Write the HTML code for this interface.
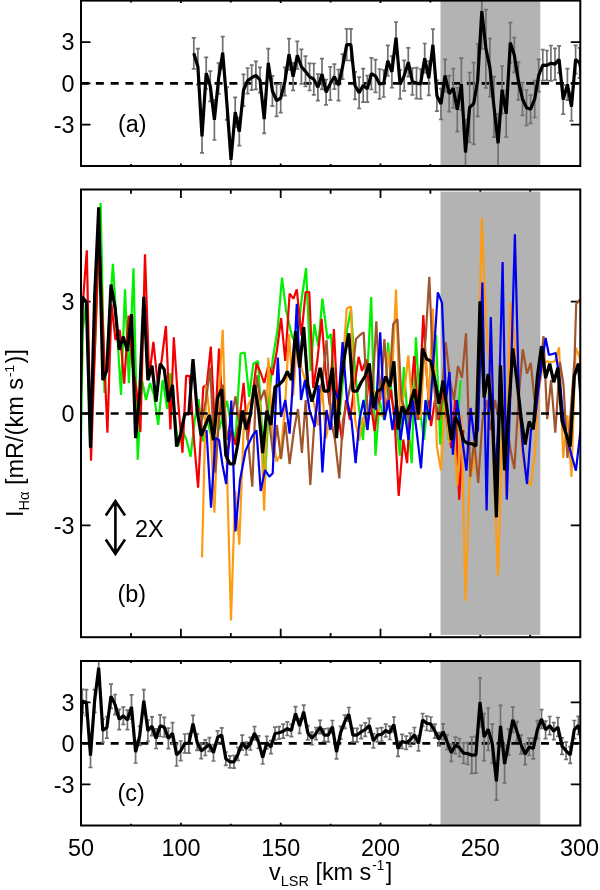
<!DOCTYPE html>
<html><head><meta charset="utf-8"><title>H-alpha spectra</title>
<style>html,body{margin:0;padding:0;background:#fff}svg{display:block}text{font-family:"Liberation Sans",sans-serif;fill:#000}</style></head><body>
<svg width="600" height="890" viewBox="0 0 600 890">
<rect width="600" height="890" fill="#fff"/>
<defs>
<clipPath id="ca"><rect x="81.0" y="0.6" width="499.3" height="165.4"/></clipPath>
<clipPath id="cb"><rect x="81.0" y="189.5" width="499.3" height="447.7"/></clipPath>
<clipPath id="cc"><rect x="81.0" y="661.0" width="499.3" height="164.5"/></clipPath>
</defs>
<path d="M131.0 0.6 v2.0 M131.0 166.0 v-2.0 M180.9 0.6 v2.5 M180.9 166.0 v-2.5 M230.8 0.6 v2.0 M230.8 166.0 v-2.0 M280.7 0.6 v2.5 M280.7 166.0 v-2.5 M330.6 0.6 v2.0 M330.6 166.0 v-2.0 M380.5 0.6 v2.5 M380.5 166.0 v-2.5 M430.4 0.6 v2.0 M430.4 166.0 v-2.0 M480.3 0.6 v2.5 M480.3 166.0 v-2.5 M530.2 0.6 v2.0 M530.2 166.0 v-2.0 M81.0 42.1 h9.5 M580.3 42.1 h-9.5 M81.0 83.4 h9.5 M580.3 83.4 h-9.5 M81.0 124.7 h9.5 M580.3 124.7 h-9.5" stroke="#000" stroke-width="1.8" fill="none"/>
<rect x="440.5" y="0.6" width="99.8" height="164.8" fill="#b3b3b3"/>
<g clip-path="url(#ca)">
<path d="M81.0 83.4 H580.3" stroke="#000" stroke-width="2.7" stroke-dasharray="8 6.84" stroke-dashoffset="0" fill="none"/>
<path d="M193.8 37.8 V68.8 M191.8 37.8 h4.0 M191.8 68.8 h4.0 M197.9 48.6 V84.7 M195.9 48.6 h4.0 M195.9 84.7 h4.0 M202.0 120.2 V152.9 M200.0 120.2 h4.0 M200.0 152.9 h4.0 M206.2 57.3 V89.0 M204.2 57.3 h4.0 M204.2 89.0 h4.0 M210.3 71.2 V101.4 M208.3 71.2 h4.0 M208.3 101.4 h4.0 M214.4 99.9 V140.0 M212.4 99.9 h4.0 M212.4 140.0 h4.0 M218.6 63.0 V93.9 M216.6 63.0 h4.0 M216.6 93.9 h4.0 M222.7 36.7 V68.6 M220.7 36.7 h4.0 M220.7 68.6 h4.0 M226.9 87.2 V119.9 M224.9 87.2 h4.0 M224.9 119.9 h4.0 M231.0 143.6 V175.9 M229.0 143.6 h4.0 M229.0 175.9 h4.0 M235.2 97.3 V126.9 M233.2 97.3 h4.0 M233.2 126.9 h4.0 M239.3 117.7 V145.7 M237.3 117.7 h4.0 M237.3 145.7 h4.0 M243.5 74.4 V106.1 M241.5 74.4 h4.0 M241.5 106.1 h4.0 M247.6 68.0 V93.6 M245.6 68.0 h4.0 M245.6 93.6 h4.0 M251.7 65.2 V90.1 M249.7 65.2 h4.0 M249.7 90.1 h4.0 M255.9 61.4 V89.4 M253.9 61.4 h4.0 M253.9 89.4 h4.0 M260.0 67.4 V92.6 M258.0 67.4 h4.0 M258.0 92.6 h4.0 M264.2 105.0 V133.3 M262.2 105.0 h4.0 M262.2 133.3 h4.0 M268.3 48.7 V77.0 M266.3 48.7 h4.0 M266.3 77.0 h4.0 M272.4 75.8 V106.2 M270.4 75.8 h4.0 M270.4 106.2 h4.0 M276.6 84.5 V116.4 M274.6 84.5 h4.0 M274.6 116.4 h4.0 M280.7 83.5 V112.6 M278.7 83.5 h4.0 M278.7 112.6 h4.0 M284.9 67.4 V95.7 M282.9 67.4 h4.0 M282.9 95.7 h4.0 M289.0 38.6 V70.0 M287.0 38.6 h4.0 M287.0 70.0 h4.0 M293.1 62.9 V90.4 M291.1 62.9 h4.0 M291.1 90.4 h4.0 M297.3 41.4 V68.9 M295.3 41.4 h4.0 M295.3 68.9 h4.0 M301.4 49.4 V83.9 M299.4 49.4 h4.0 M299.4 83.9 h4.0 M305.5 56.2 V86.5 M303.5 56.2 h4.0 M303.5 86.5 h4.0 M309.6 63.3 V90.5 M307.6 63.3 h4.0 M307.6 90.5 h4.0 M313.8 63.5 V94.9 M311.8 63.5 h4.0 M311.8 94.9 h4.0 M317.9 74.2 V100.6 M315.9 74.2 h4.0 M315.9 100.6 h4.0 M322.0 58.7 V89.4 M320.0 58.7 h4.0 M320.0 89.4 h4.0 M326.1 79.5 V104.9 M324.1 79.5 h4.0 M324.1 104.9 h4.0 M330.3 66.8 V100.1 M328.3 66.8 h4.0 M328.3 100.1 h4.0 M334.4 64.2 V89.1 M332.4 64.2 h4.0 M332.4 89.1 h4.0 M338.5 69.6 V100.6 M336.5 69.6 h4.0 M336.5 100.6 h4.0 M342.6 54.1 V79.2 M340.6 54.1 h4.0 M340.6 79.2 h4.0 M346.7 28.9 V60.4 M344.7 28.9 h4.0 M344.7 60.4 h4.0 M350.9 28.8 V60.6 M348.9 28.8 h4.0 M348.9 60.6 h4.0 M355.0 71.8 V99.3 M353.0 71.8 h4.0 M353.0 99.3 h4.0 M359.1 77.1 V108.5 M357.1 77.1 h4.0 M357.1 108.5 h4.0 M363.2 68.6 V102.2 M361.2 68.6 h4.0 M361.2 102.2 h4.0 M367.3 75.5 V102.2 M365.3 75.5 h4.0 M365.3 102.2 h4.0 M371.4 57.8 V89.5 M369.4 57.8 h4.0 M369.4 89.5 h4.0 M375.5 59.7 V92.4 M373.5 59.7 h4.0 M373.5 92.4 h4.0 M379.6 69.0 V98.9 M377.6 69.0 h4.0 M377.6 98.9 h4.0 M383.7 70.0 V97.0 M381.7 70.0 h4.0 M381.7 97.0 h4.0 M387.8 45.4 V76.0 M385.8 45.4 h4.0 M385.8 76.0 h4.0 M391.9 56.1 V87.6 M389.9 56.1 h4.0 M389.9 87.6 h4.0 M396.0 22.0 V53.4 M394.0 22.0 h4.0 M394.0 53.4 h4.0 M400.1 70.0 V98.8 M398.1 70.0 h4.0 M398.1 98.8 h4.0 M404.2 60.3 V90.9 M402.2 60.3 h4.0 M402.2 90.9 h4.0 M408.3 47.9 V76.6 M406.3 47.9 h4.0 M406.3 76.6 h4.0 M412.4 68.2 V94.9 M410.4 68.2 h4.0 M410.4 94.9 h4.0 M416.5 67.7 V98.6 M414.5 67.7 h4.0 M414.5 98.6 h4.0 M420.6 69.0 V98.9 M418.6 69.0 h4.0 M418.6 98.9 h4.0 M424.7 43.5 V73.0 M422.7 43.5 h4.0 M422.7 73.0 h4.0 M428.8 61.1 V95.4 M426.8 61.1 h4.0 M426.8 95.4 h4.0 M432.9 29.1 V60.5 M430.9 29.1 h4.0 M430.9 60.5 h4.0 M436.9 80.4 V111.1 M434.9 80.4 h4.0 M434.9 111.1 h4.0 M441.0 88.7 V119.3 M439.0 88.7 h4.0 M439.0 119.3 h4.0 M445.1 59.4 V91.6 M443.1 59.4 h4.0 M443.1 91.6 h4.0 M449.2 75.6 V111.7 M447.2 75.6 h4.0 M447.2 111.7 h4.0 M453.3 68.7 V108.0 M451.3 68.7 h4.0 M451.3 108.0 h4.0 M457.3 87.7 V131.7 M455.3 87.7 h4.0 M455.3 131.7 h4.0 M461.4 58.1 V110.0 M459.4 58.1 h4.0 M459.4 110.0 h4.0 M465.5 119.5 V185.5 M463.5 119.5 h4.0 M463.5 185.5 h4.0 M469.6 72.5 V142.5 M467.6 72.5 h4.0 M467.6 142.5 h4.0 M473.7 62.7 V144.4 M471.7 62.7 h4.0 M471.7 144.4 h4.0 M477.7 44.0 V116.3 M475.7 44.0 h4.0 M475.7 116.3 h4.0 M481.8 -26.6 V48.8 M479.8 -26.6 h4.0 M479.8 48.8 h4.0 M485.9 9.7 V87.8 M483.9 9.7 h4.0 M483.9 87.8 h4.0 M489.9 38.5 V96.7 M487.9 38.5 h4.0 M487.9 96.7 h4.0 M494.0 76.6 V137.1 M492.0 76.6 h4.0 M492.0 137.1 h4.0 M498.1 113.8 V172.7 M496.1 113.8 h4.0 M496.1 172.7 h4.0 M502.1 66.0 V113.5 M500.1 66.0 h4.0 M500.1 113.5 h4.0 M506.2 90.6 V137.0 M504.2 90.6 h4.0 M504.2 137.0 h4.0 M510.3 22.6 V62.7 M508.3 22.6 h4.0 M508.3 62.7 h4.0 M514.3 37.7 V72.3 M512.3 37.7 h4.0 M512.3 72.3 h4.0 M518.4 62.1 V99.8 M516.4 62.1 h4.0 M516.4 99.8 h4.0 M522.5 82.7 V115.4 M520.5 82.7 h4.0 M520.5 115.4 h4.0 M526.5 90.0 V125.3 M524.5 90.0 h4.0 M524.5 125.3 h4.0 M530.6 95.1 V123.3 M528.6 95.1 h4.0 M528.6 123.3 h4.0 M534.7 80.6 V117.5 M532.7 80.6 h4.0 M532.7 117.5 h4.0 M538.7 59.3 V91.6 M536.7 59.3 h4.0 M536.7 91.6 h4.0 M542.8 49.7 V80.7 M540.8 49.7 h4.0 M540.8 80.7 h4.0 M546.9 50.5 V80.3 M544.9 50.5 h4.0 M544.9 80.3 h4.0 M550.9 45.5 V80.8 M548.9 45.5 h4.0 M548.9 80.8 h4.0 M555.0 48.4 V79.8 M553.0 48.4 h4.0 M553.0 79.8 h4.0 M559.1 45.8 V73.0 M557.1 45.8 h4.0 M557.1 73.0 h4.0 M563.2 85.0 V114.1 M561.2 85.0 h4.0 M561.2 114.1 h4.0 M567.4 68.6 V100.1 M565.4 68.6 h4.0 M565.4 100.1 h4.0 M571.5 92.6 V120.9 M569.5 92.6 h4.0 M569.5 120.9 h4.0 M575.6 45.3 V73.6 M573.6 45.3 h4.0 M573.6 73.6 h4.0 M579.7 47.9 V77.8 M577.7 47.9 h4.0 M577.7 77.8 h4.0" stroke="#707070" stroke-width="1.7" fill="none"/>
<path d="M193.8 53.3 L197.9 66.7 L202.0 136.5 L206.2 73.2 L210.3 86.3 L214.4 119.9 L218.6 78.4 L222.7 52.7 L226.9 103.6 L231.0 159.8 L235.2 112.1 L239.3 131.7 L243.5 90.2 L247.6 80.8 L251.7 77.7 L255.9 75.4 L260.0 80.0 L264.2 119.2 L268.3 62.9 L272.4 91.0 L276.6 100.5 L280.7 98.1 L284.9 81.6 L289.0 54.3 L293.1 76.6 L297.3 55.2 L301.4 66.7 L305.5 71.4 L309.6 76.9 L313.8 79.2 L317.9 87.4 L322.0 74.0 L326.1 92.2 L330.3 83.5 L334.4 76.6 L338.5 85.1 L342.6 66.7 L346.7 44.6 L350.9 44.7 L355.0 85.5 L359.1 92.8 L363.2 85.4 L367.3 88.8 L371.4 73.6 L375.5 76.1 L379.6 83.9 L383.7 83.5 L387.8 60.7 L391.9 71.9 L396.0 37.7 L400.1 84.4 L404.2 75.6 L408.3 62.2 L412.4 81.6 L416.5 83.2 L420.6 83.9 L424.7 58.2 L428.8 78.2 L432.9 44.8 L436.9 95.7 L441.0 104.0 L445.1 75.5 L449.2 93.7 L453.3 88.3 L457.3 109.7 L461.4 84.1 L465.5 152.5 L469.6 107.5 L473.7 103.6 L477.7 80.2 L481.8 11.1 L485.9 48.7 L489.9 67.6 L494.0 106.9 L498.1 143.2 L502.1 89.7 L506.2 113.8 L510.3 42.7 L514.3 55.0 L518.4 80.9 L522.5 99.0 L526.5 107.7 L530.6 109.2 L534.7 99.0 L538.7 75.4 L542.8 65.2 L546.9 65.4 L550.9 63.2 L555.0 64.1 L559.1 59.4 L563.2 99.6 L567.4 84.4 L571.5 106.7 L575.6 59.5 L579.7 62.9 L583.8 84.9" stroke="#000" stroke-width="3.2" fill="none" stroke-linejoin="bevel"/>
</g>
<rect x="81.0" y="0.6" width="499.3" height="165.4" fill="none" stroke="#000" stroke-width="2.0"/>
<text transform="translate(74.5 50.4) scale(1 1.060)" font-size="23.4" text-anchor="end">3</text>
<text transform="translate(74.5 91.7) scale(1 1.060)" font-size="23.4" text-anchor="end">0</text>
<text transform="translate(74.5 133.0) scale(1 1.060)" font-size="23.4" text-anchor="end">-3</text>
<text transform="translate(118.0 131.5) scale(1 1.060)" font-size="23.4">(a)</text>
<path d="M131.0 189.5 v4.2 M131.0 637.2 v-4.2 M180.9 189.5 v8.5 M180.9 637.2 v-8.5 M230.8 189.5 v4.2 M230.8 637.2 v-4.2 M280.7 189.5 v8.5 M280.7 637.2 v-8.5 M330.6 189.5 v4.2 M330.6 637.2 v-4.2 M380.5 189.5 v8.5 M380.5 637.2 v-8.5 M430.4 189.5 v4.2 M430.4 637.2 v-4.2 M480.3 189.5 v8.5 M480.3 637.2 v-8.5 M530.2 189.5 v4.2 M530.2 637.2 v-4.2 M81.0 301.6 h9.5 M580.3 301.6 h-9.5 M81.0 413.5 h9.5 M580.3 413.5 h-9.5 M81.0 525.4 h9.5 M580.3 525.4 h-9.5" stroke="#000" stroke-width="1.8" fill="none"/>
<rect x="440.5" y="191.6" width="99.8" height="443.3" fill="#b3b3b3"/>
<g clip-path="url(#cb)" fill="none" stroke-width="2.2" stroke-linejoin="bevel">
<path d="M78.5 590.0 L82.8 330.0 L86.5 300.0 L90.2 445.0 L95.3 340.0 L100.6 203.0 L104.5 393.0 L108.5 330.0 L112.9 263.8 L117.0 330.0 L121.0 395.0 L125.0 289.4 L128.9 383.0 L133.5 268.3 L137.7 459.8 L142.0 380.0 L146.0 400.0 L150.0 383.0 L154.0 395.0 L158.2 424.8 L162.6 380.0 L167.3 409.0 L170.4 373.0 L174.5 415.0 L178.4 445.7 L182.5 430.0 L186.5 440.0 L190.6 456.8 L194.7 420.0 L198.7 399.0 L202.7 441.6 L207.0 420.0 L211.0 435.0 L215.0 410.0 L219.0 430.0 L223.0 415.0 L227.0 401.0 L231.0 425.0 L235.5 440.0 L240.5 353.5 L244.7 352.6 L249.2 397.0 L253.3 363.7 L258.0 361.0 L261.5 420.0 L265.0 481.0 L269.0 400.0 L272.7 359.3 L277.5 330.0 L282.0 277.6 L286.0 310.0 L292.1 336.6 L297.0 345.0 L301.5 300.0 L306.1 268.0 L310.6 371.0 L314.3 324.0 L318.2 346.0 L322.4 298.7 L327.5 339.0 L330.8 334.0 L335.0 390.0 L339.0 420.0 L343.0 380.0 L347.0 330.0 L351.0 309.0 L355.0 370.0 L358.6 405.0 L363.0 440.0 L367.0 380.0 L371.2 297.0 L375.5 455.6 L379.5 400.0 L384.0 420.0 L388.1 342.5 L392.0 400.0 L396.0 420.0 L399.9 455.6 L403.8 367.0 L407.8 420.0 L411.7 463.2 L415.9 337.4 L420.0 410.0 L424.0 440.0 L428.0 400.0 L432.0 380.0 L436.0 334.8 L440.3 444.6 L444.5 372.0 L448.5 440.0 L452.5 425.0 L456.5 440.0 L460.5 380.5" stroke="#00f000"/>
<path d="M78.2 560.0 L82.3 310.0 L86.8 250.3 L91.0 460.6 L99.0 232.0 L107.4 432.8 L111.5 304.6 L115.5 340.0 L119.8 330.0 L124.2 383.6 L128.6 315.5 L132.5 365.0 L136.5 390.0 L140.4 432.0 L145.0 254.3 L149.2 377.0 L153.4 341.8 L157.6 382.2 L161.7 360.0 L165.9 326.0 L170.4 429.5 L173.8 337.4 L178.0 400.0 L182.5 452.8 L186.1 375.9 L189.6 375.9 L194.0 440.0 L198.1 487.6 L203.3 387.0 L206.8 385.0 L210.8 346.6 L215.0 430.0 L219.0 348.5 L223.0 420.0 L227.0 455.0 L231.5 430.0 L235.5 445.0 L239.5 420.0 L243.6 382.8 L247.7 440.0 L252.0 400.0 L256.5 363.5 L260.3 372.0 L264.2 383.0 L268.5 365.0 L272.5 375.0 L277.0 350.0 L281.1 318.0 L285.3 361.0 L289.6 293.6 L293.5 298.7 L296.8 289.4 L301.4 335.7 L305.6 292.0 L309.3 292.0 L313.2 388.0 L317.4 360.0 L321.6 318.9 L325.5 370.0 L329.7 405.0 L333.9 329.0 L338.0 413.0 L342.0 440.0 L346.0 400.0 L350.0 420.0 L354.5 385.0 L358.6 356.8 L362.0 371.0 L366.2 359.3 L370.3 400.0 L374.6 431.0 L378.7 400.0 L382.8 380.0 L386.9 410.0 L391.0 390.0 L394.6 420.0 L398.7 496.0 L403.3 439.6 L407.1 463.2 L410.5 400.0 L414.2 356.0 L418.5 420.0 L423.3 315.0 L427.0 380.0 L431.0 426.0 L435.0 400.0 L439.0 420.0 L443.0 390.0 L447.0 420.0 L451.2 448.0 L455.2 400.0 L459.2 499.6 L463.3 430.0" stroke="#f40000"/>
<path d="M202.0 557.4 L206.2 385.2 L210.3 421.3 L214.4 512.8 L218.6 400.1 L222.7 329.9 L226.9 468.1 L231.0 620.4 L235.2 490.7 L239.3 544.7 L243.5 432.0 L247.6 406.5 L251.7 397.9 L255.9 389.4 L260.0 404.3 L264.2 510.7 L268.3 357.5 L272.4 434.1 L276.6 461.7 L280.7 453.2 L284.9 408.6 L289.0 334.1 L293.1 395.8 L297.3 336.3 L301.4 368.2 L305.5 380.9 L309.6 395.8 L313.8 402.2 L317.9 425.6 L322.0 387.3 L326.1 438.4 L330.3 413.7 L334.4 393.7 L338.5 419.2 L342.6 368.2 L346.7 308.6 L350.9 306.5 L355.0 419.2 L359.1 440.5 L363.2 417.1 L367.3 429.8 L371.4 385.2 L375.5 393.7 L379.6 415.0 L383.7 416.2 L387.8 351.2 L391.9 383.1 L396.0 289.5 L400.1 417.1 L404.2 392.4 L408.3 355.4 L412.4 408.6 L416.5 412.8 L420.6 417.1 L424.7 344.8 L428.8 400.1 L432.9 308.6 L436.9 446.9 L441.0 470.3 L445.1 391.6 L449.2 442.6 L453.3 425.6 L457.3 485.1 L461.4 415.0 L465.5 600.8 L469.6 478.8 L473.7 468.1 L477.7 404.7 L481.8 217.6 L485.9 319.7 L489.9 370.7 L494.0 477.0 L498.1 575.7 L502.1 430.2 L506.2 496.2 L510.3 302.6 L514.3 336.7 L518.4 406.9 L522.5 455.8 L526.5 479.2 L530.6 485.5 L534.7 455.8 L538.7 392.0 L542.8 364.3 L546.9 361.3 L550.9 362.2 L555.0 361.3 L559.1 347.3 L563.2 457.9 L567.4 415.4 L571.5 477.0 L575.6 347.3 L579.7 357.9 L583.8 417.5" stroke="#fd9c14"/>
<path d="M197.5 405.0 L202.0 420.0 L206.0 400.0 L210.2 367.7 L215.3 472.4 L219.0 420.0 L222.8 384.5 L227.0 440.0 L231.0 420.0 L235.5 396.3 L240.0 430.0 L244.0 410.0 L248.0 440.0 L252.3 486.7 L256.5 375.3 L260.5 400.0 L264.5 390.0 L269.0 420.0 L273.5 457.3 L276.9 425.0 L281.1 459.0 L285.3 422.0 L289.6 464.0 L294.0 430.0 L298.0 409.0 L301.9 453.0 L305.7 400.0 L310.3 485.0 L314.5 420.0 L318.0 400.0 L322.5 380.0 L326.6 340.0 L331.0 420.0 L335.0 440.0 L339.3 478.4 L343.0 420.0 L347.5 400.0 L351.5 380.0 L356.0 339.0 L360.0 335.0 L363.7 332.4 L368.0 420.0 L372.0 400.0 L376.3 321.4 L380.3 400.0 L384.4 339.0 L388.5 400.0 L393.2 324.0 L397.4 319.0 L401.5 400.0 L405.5 410.0 L409.5 420.0 L413.5 400.0 L417.5 420.0 L421.5 380.0 L425.5 340.0 L429.3 276.7 L433.5 380.0 L437.5 420.0 L441.5 400.0 L445.7 342.0 L450.0 380.0 L454.0 400.0 L458.0 366.0 L462.0 378.0 L466.0 333.4 L470.3 476.9 L474.2 440.0 L478.2 482.8 L482.5 420.0 L486.5 400.0 L490.5 430.0 L495.0 400.0 L499.0 420.0 L503.5 408.0 L507.5 430.0 L510.5 450.0 L514.4 469.0 L518.5 400.0 L522.8 349.3 L527.0 373.7 L530.7 362.8 L534.6 400.0 L539.0 380.0 L543.5 336.0 L547.2 419.2 L551.0 380.0 L555.3 432.7 L559.9 362.0 L563.5 385.0 L567.5 458.0 L571.5 400.0 L574.5 360.0 L576.2 304.0 L580.5 299.0 L585.0 295.0" stroke="#a0552d"/>
<path d="M206.5 430.0 L211.0 507.8 L215.5 438.0 L219.0 440.0 L222.5 465.0 L226.2 484.0 L231.3 400.5 L235.5 531.4 L240.0 480.0 L245.6 450.5 L252.3 436.0 L256.5 430.3 L260.7 491.0 L265.0 470.0 L269.3 476.7 L272.7 473.3 L277.8 357.6 L281.0 417.0 L285.3 400.0 L289.6 433.7 L293.0 380.0 L296.8 303.7 L301.0 400.0 L305.0 380.0 L309.5 410.0 L314.8 427.0 L318.5 385.0 L322.4 472.5 L326.5 410.0 L330.5 430.0 L334.5 390.0 L338.5 400.0 L342.6 342.0 L347.0 400.0 L351.5 420.0 L355.6 463.2 L359.5 420.0 L363.5 400.0 L367.5 430.0 L371.5 390.0 L376.0 410.0 L380.2 332.4 L384.5 420.0 L388.5 400.0 L392.5 430.0 L396.5 400.0 L400.5 440.0 L404.5 410.0 L408.5 440.0 L412.5 400.0 L416.5 430.0 L421.0 468.3 L425.5 400.0 L429.5 420.0 L433.5 360.0 L437.8 292.4 L442.0 302.8 L446.0 400.0 L449.5 372.0 L452.9 454.7 L457.0 400.0 L461.0 430.0 L466.4 470.7 L470.6 408.0 L474.5 440.0 L478.0 430.0 L482.4 282.6 L486.6 510.6 L490.8 317.0 L495.0 480.0 L498.5 420.0 L502.6 262.0 L506.8 499.6 L510.8 380.0 L514.9 234.3 L519.0 400.0 L523.0 450.0 L527.0 484.0 L531.0 430.0 L535.0 420.0 L539.5 380.0 L545.6 338.0 L549.0 355.0 L555.7 353.0 L559.8 380.0 L563.5 420.0 L567.5 440.0 L571.5 455.0 L575.9 470.6 L581.0 426.0 L585.0 380.0" stroke="#0000ee"/>
<path d="M81.0 413.5 H580.3" stroke="#000" stroke-width="2.7" stroke-dasharray="8 6.84" stroke-dashoffset="0" fill="none"/>
<path d="M78.2 513.6 L82.3 296.8 L86.4 302.4 L90.5 447.6 L94.6 298.1 L98.7 207.4 L102.8 380.1 L106.9 370.1 L111.0 284.6 L115.1 308.0 L119.2 349.7 L123.3 336.6 L127.4 351.0 L131.5 314.1 L135.6 438.2 L139.7 393.2 L143.8 296.9 L147.9 380.2 L152.0 365.6 L156.1 401.7 L160.2 363.7 L164.3 369.7 L168.4 401.6 L172.5 384.9 L176.6 446.6 L180.7 433.9 L184.8 413.8 L188.9 413.8 L193.0 359.1 L197.1 410.4 L201.2 435.8 L205.3 425.4 L209.4 415.0 L213.5 440.2 L217.6 397.5 L221.7 389.3 L225.8 455.4 L229.9 463.9 L234.0 463.9 L238.1 442.5 L242.2 410.6 L246.3 429.4 L250.4 414.7 L254.5 384.9 L258.6 410.4 L262.7 453.1 L266.8 410.6 L270.9 425.1 L275.0 386.8 L279.1 384.7 L283.2 380.4 L287.3 371.5 L291.4 380.1 L295.5 331.3 L299.6 367.4 L303.7 327.0 L307.8 384.7 L311.9 401.5 L316.0 386.8 L320.1 367.8 L324.2 391.1 L328.3 391.1 L332.4 367.7 L336.5 438.1 L340.6 384.7 L344.7 354.7 L348.8 333.4 L352.9 391.1 L357.0 391.1 L361.1 382.5 L365.2 376.1 L369.3 363.5 L373.4 408.0 L377.5 391.1 L381.6 389.0 L385.7 376.5 L389.8 386.5 L393.9 361.3 L398.0 429.5 L402.1 406.5 L406.2 414.2 L410.3 404.0 L414.4 389.2 L418.5 414.5 L422.6 348.5 L426.7 359.0 L430.8 361.1 L434.9 380.4 L439.0 403.7 L443.1 380.6 L447.2 410.4 L451.3 440.2 L455.4 417.2 L459.5 425.4 L463.6 440.4 L467.7 443.6 L471.8 443.5 L475.9 446.3 L480.0 301.2 L484.1 397.4 L488.2 374.1 L492.3 414.7 L496.4 517.4 L500.5 365.4 L504.6 470.3 L508.7 410.4 L512.8 348.4 L516.9 380.4 L521.0 416.8 L525.1 444.5 L529.2 421.5 L533.3 429.3 L537.4 376.1 L541.5 346.3 L545.6 378.0 L549.7 363.6 L553.8 382.2 L557.9 367.8 L562.0 421.1 L566.1 433.9 L570.2 446.6 L574.3 376.1 L578.4 363.5 L582.5 419.0" stroke="#000" stroke-width="3.2"/>
</g>
<rect x="81.0" y="189.5" width="499.3" height="447.7" fill="none" stroke="#000" stroke-width="2.0"/>
<text transform="translate(74.5 309.9) scale(1 1.060)" font-size="23.4" text-anchor="end">3</text>
<text transform="translate(74.5 421.8) scale(1 1.060)" font-size="23.4" text-anchor="end">0</text>
<text transform="translate(74.5 533.7) scale(1 1.060)" font-size="23.4" text-anchor="end">-3</text>
<text transform="translate(117.5 602.0) scale(1 1.060)" font-size="23.4">(b)</text>
<text transform="translate(135.0 536.8) scale(1 1.060)" font-size="23.4">2X</text>
<path d="M115.4 502 V553 M105.8 515.5 L115.4 501.2 L125 515.5 M105.8 539.5 L115.4 553.8 L125 539.5" stroke="#000" stroke-width="2.6" fill="none" stroke-linejoin="miter"/>
<path d="M131.0 661.0 v2.0 M131.0 825.5 v-1.8 M180.9 661.0 v3.0 M180.9 825.5 v-2.7 M230.8 661.0 v2.0 M230.8 825.5 v-1.8 M280.7 661.0 v3.0 M280.7 825.5 v-2.7 M330.6 661.0 v2.0 M330.6 825.5 v-1.8 M380.5 661.0 v3.0 M380.5 825.5 v-2.7 M430.4 661.0 v2.0 M430.4 825.5 v-1.8 M480.3 661.0 v3.0 M480.3 825.5 v-2.7 M530.2 661.0 v2.0 M530.2 825.5 v-1.8 M81.0 702.3 h9.5 M580.3 702.3 h-9.5 M81.0 743.3 h9.5 M580.3 743.3 h-9.5 M81.0 784.3 h9.5 M580.3 784.3 h-9.5" stroke="#000" stroke-width="1.8" fill="none"/>
<rect x="440.5" y="661.6" width="99.8" height="163.3" fill="#b3b3b3"/>
<g clip-path="url(#cc)">
<path d="M81.0 743.3 H580.3" stroke="#000" stroke-width="2.7" stroke-dasharray="8 6.84" stroke-dashoffset="0" fill="none"/>
<path d="M82.3 689.3 V712.7 M80.3 689.3 h4.0 M80.3 712.7 h4.0 M86.4 689.7 V715.4 M84.4 689.7 h4.0 M84.4 715.4 h4.0 M90.5 743.9 V767.5 M88.5 743.9 h4.0 M88.5 767.5 h4.0 M94.6 689.6 V712.4 M92.6 689.6 h4.0 M92.6 712.4 h4.0 M98.7 655.9 V679.6 M96.7 655.9 h4.0 M96.7 679.6 h4.0 M102.8 718.9 V742.3 M100.8 718.9 h4.0 M100.8 742.3 h4.0 M106.9 716.7 V738.1 M104.9 716.7 h4.0 M104.9 738.1 h4.0 M111.0 684.2 V708.4 M109.0 684.2 h4.0 M109.0 708.4 h4.0 M115.1 694.5 V714.7 M113.1 694.5 h4.0 M113.1 714.7 h4.0 M119.2 709.3 V729.6 M117.2 709.3 h4.0 M117.2 729.6 h4.0 M123.3 707.1 V724.4 M121.3 707.1 h4.0 M121.3 724.4 h4.0 M127.4 710.1 V729.7 M125.4 710.1 h4.0 M125.4 729.7 h4.0 M131.5 694.9 V719.2 M129.5 694.9 h4.0 M129.5 719.2 h4.0 M135.6 741.3 V763.0 M133.6 741.3 h4.0 M133.6 763.0 h4.0 M139.7 726.4 V745.3 M137.7 726.4 h4.0 M137.7 745.3 h4.0 M143.8 689.7 V711.7 M141.8 689.7 h4.0 M141.8 711.7 h4.0 M147.9 720.1 V741.3 M145.9 720.1 h4.0 M145.9 741.3 h4.0 M152.0 716.8 V735.7 M150.0 716.8 h4.0 M150.0 735.7 h4.0 M156.1 728.8 V748.5 M154.1 728.8 h4.0 M154.1 748.5 h4.0 M160.2 714.8 V736.5 M158.2 714.8 h4.0 M158.2 736.5 h4.0 M164.3 717.4 V737.0 M162.3 717.4 h4.0 M162.3 737.0 h4.0 M168.4 728.2 V748.7 M166.4 728.2 h4.0 M166.4 748.7 h4.0 M172.5 722.6 V743.8 M170.5 722.6 h4.0 M170.5 743.8 h4.0 M176.6 744.0 V766.0 M174.6 744.0 h4.0 M174.6 766.0 h4.0 M180.7 741.0 V760.6 M178.7 741.0 h4.0 M178.7 760.6 h4.0 M184.8 734.0 V752.8 M182.8 734.0 h4.0 M182.8 752.8 h4.0 M188.9 733.7 V753.1 M186.9 733.7 h4.0 M186.9 753.1 h4.0 M193.0 715.3 V731.8 M191.0 715.3 h4.0 M191.0 731.8 h4.0 M197.1 733.9 V750.4 M195.1 733.9 h4.0 M195.1 750.4 h4.0 M201.2 743.0 V758.7 M199.2 743.0 h4.0 M199.2 758.7 h4.0 M205.3 739.8 V755.5 M203.3 739.8 h4.0 M203.3 755.5 h4.0 M209.4 737.6 V751.3 M207.4 737.6 h4.0 M207.4 751.3 h4.0 M213.5 744.5 V761.0 M211.5 744.5 h4.0 M211.5 761.0 h4.0 M217.6 730.8 V744.1 M215.6 730.8 h4.0 M215.6 744.1 h4.0 M221.7 727.9 V742.0 M219.7 727.9 h4.0 M219.7 742.0 h4.0 M225.8 752.0 V765.3 M223.8 752.0 h4.0 M223.8 765.3 h4.0 M229.9 755.8 V767.9 M227.9 755.8 h4.0 M227.9 767.9 h4.0 M234.0 755.5 V768.1 M232.0 755.5 h4.0 M232.0 768.1 h4.0 M238.1 747.4 V760.5 M236.1 747.4 h4.0 M236.1 760.5 h4.0 M242.2 735.2 V750.2 M240.2 735.2 h4.0 M240.2 750.2 h4.0 M246.3 742.0 V755.0 M244.3 742.0 h4.0 M244.3 755.0 h4.0 M250.4 737.4 V750.0 M248.4 737.4 h4.0 M248.4 750.0 h4.0 M254.5 726.5 V739.9 M252.5 726.5 h4.0 M252.5 739.9 h4.0 M258.6 735.9 V748.4 M256.6 735.9 h4.0 M256.6 748.4 h4.0 M262.7 751.1 V764.0 M260.7 751.1 h4.0 M260.7 764.0 h4.0 M266.8 736.4 V749.0 M264.8 736.4 h4.0 M264.8 749.0 h4.0 M270.9 740.6 V753.6 M268.9 740.6 h4.0 M268.9 753.6 h4.0 M275.0 727.1 V740.0 M273.0 727.1 h4.0 M273.0 740.0 h4.0 M279.1 726.6 V738.9 M277.1 726.6 h4.0 M277.1 738.9 h4.0 M283.2 724.1 V738.2 M281.2 724.1 h4.0 M281.2 738.2 h4.0 M287.3 721.8 V735.5 M285.3 721.8 h4.0 M285.3 735.5 h4.0 M291.4 724.4 V736.6 M289.4 724.4 h4.0 M289.4 736.6 h4.0 M295.5 706.6 V720.2 M293.5 706.6 h4.0 M293.5 720.2 h4.0 M299.6 718.8 V733.4 M297.6 718.8 h4.0 M297.6 733.4 h4.0 M303.7 705.1 V718.5 M301.7 705.1 h4.0 M301.7 718.5 h4.0 M307.8 725.7 V739.8 M305.8 725.7 h4.0 M305.8 739.8 h4.0 M311.9 732.0 V744.6 M309.9 732.0 h4.0 M309.9 744.6 h4.0 M316.0 727.5 V739.6 M314.0 727.5 h4.0 M314.0 739.6 h4.0 M320.1 720.4 V733.7 M318.1 720.4 h4.0 M318.1 733.7 h4.0 M324.2 728.8 V741.4 M322.2 728.8 h4.0 M322.2 741.4 h4.0 M328.3 728.4 V741.8 M326.3 728.4 h4.0 M326.3 741.8 h4.0 M332.4 720.5 V733.1 M330.4 720.5 h4.0 M330.4 733.1 h4.0 M336.5 745.5 V758.8 M334.5 745.5 h4.0 M334.5 758.8 h4.0 M340.6 726.3 V739.2 M338.6 726.3 h4.0 M338.6 739.2 h4.0 M344.7 715.0 V728.4 M342.7 715.0 h4.0 M342.7 728.4 h4.0 M348.8 707.5 V721.1 M346.8 707.5 h4.0 M346.8 721.1 h4.0 M352.9 728.4 V741.8 M350.9 728.4 h4.0 M350.9 741.8 h4.0 M357.0 728.4 V741.8 M355.0 728.4 h4.0 M355.0 741.8 h4.0 M361.1 725.3 V738.6 M359.1 725.3 h4.0 M359.1 738.6 h4.0 M365.2 722.9 V736.3 M363.2 722.9 h4.0 M363.2 736.3 h4.0 M369.3 718.4 V732.5 M367.3 718.4 h4.0 M367.3 732.5 h4.0 M373.4 733.8 V747.9 M371.4 733.8 h4.0 M371.4 747.9 h4.0 M377.5 728.4 V741.8 M375.5 728.4 h4.0 M375.5 741.8 h4.0 M381.6 727.6 V741.0 M379.6 727.6 h4.0 M379.6 741.0 h4.0 M385.7 724.2 V736.8 M383.7 724.2 h4.0 M383.7 736.8 h4.0 M389.8 726.1 V739.5 M387.8 726.1 h4.0 M387.8 739.5 h4.0 M393.9 717.0 V731.9 M391.9 717.0 h4.0 M391.9 731.9 h4.0 M398.0 741.4 V756.3 M396.0 741.4 h4.0 M396.0 756.3 h4.0 M402.1 734.3 V748.5 M400.1 734.3 h4.0 M400.1 748.5 h4.0 M406.2 736.1 V749.4 M404.2 736.1 h4.0 M404.2 749.4 h4.0 M410.3 733.1 V746.5 M408.3 733.1 h4.0 M408.3 746.5 h4.0 M414.4 727.5 V742.4 M412.4 727.5 h4.0 M412.4 742.4 h4.0 M418.5 735.9 V750.8 M416.5 735.9 h4.0 M416.5 750.8 h4.0 M422.6 713.5 V726.4 M420.6 713.5 h4.0 M420.6 726.4 h4.0 M426.7 716.2 V730.4 M424.7 716.2 h4.0 M424.7 730.4 h4.0 M430.8 717.0 V731.2 M428.8 717.0 h4.0 M428.8 731.2 h4.0 M434.9 724.2 V738.1 M432.9 724.2 h4.0 M432.9 738.1 h4.0 M439.0 732.6 V745.9 M437.0 732.6 h4.0 M437.0 745.9 h4.0 M443.1 723.8 V739.5 M441.1 723.8 h4.0 M441.1 739.5 h4.0 M447.2 734.7 V749.6 M445.2 734.7 h4.0 M445.2 749.6 h4.0 M451.3 744.0 V761.3 M449.3 744.0 h4.0 M449.3 761.3 h4.0 M455.4 737.1 V753.6 M453.4 737.1 h4.0 M453.4 753.6 h4.0 M459.5 738.6 V756.7 M457.5 738.6 h4.0 M457.5 756.7 h4.0 M463.6 742.9 V763.4 M461.6 742.9 h4.0 M461.6 763.4 h4.0 M467.7 742.5 V764.5 M465.7 742.5 h4.0 M465.7 764.5 h4.0 M471.8 737.1 V773.3 M469.8 737.1 h4.0 M469.8 773.3 h4.0 M475.9 736.3 V773.2 M473.9 736.3 h4.0 M473.9 773.2 h4.0 M480.0 677.8 V726.6 M478.0 677.8 h4.0 M478.0 726.6 h4.0 M484.1 713.5 V760.7 M482.1 713.5 h4.0 M482.1 760.7 h4.0 M488.2 708.0 V750.5 M486.2 708.0 h4.0 M486.2 750.5 h4.0 M492.3 724.1 V763.4 M490.3 724.1 h4.0 M490.3 763.4 h4.0 M496.4 762.5 V800.2 M494.4 762.5 h4.0 M494.4 800.2 h4.0 M500.5 705.3 V746.2 M498.5 705.3 h4.0 M498.5 746.2 h4.0 M504.6 745.1 V782.8 M502.6 745.1 h4.0 M502.6 782.8 h4.0 M508.7 729.2 V755.1 M506.7 729.2 h4.0 M506.7 755.1 h4.0 M512.8 707.1 V732.3 M510.8 707.1 h4.0 M510.8 732.3 h4.0 M516.9 721.6 V740.7 M514.9 721.6 h4.0 M514.9 740.7 h4.0 M521.0 735.1 V753.9 M519.0 735.1 h4.0 M519.0 753.9 h4.0 M525.1 743.8 V764.7 M523.1 743.8 h4.0 M523.1 764.7 h4.0 M529.2 738.2 V755.5 M527.2 738.2 h4.0 M527.2 755.5 h4.0 M533.3 738.2 V758.9 M531.3 738.2 h4.0 M531.3 758.9 h4.0 M537.4 720.5 V738.6 M535.4 720.5 h4.0 M535.4 738.6 h4.0 M541.5 709.6 V728.4 M539.5 709.6 h4.0 M539.5 728.4 h4.0 M545.6 721.0 V738.6 M543.6 721.0 h4.0 M543.6 738.6 h4.0 M549.7 716.5 V734.6 M547.7 716.5 h4.0 M547.7 734.6 h4.0 M553.8 722.7 V739.7 M551.8 722.7 h4.0 M551.8 739.7 h4.0 M557.9 717.5 V736.4 M555.9 717.5 h4.0 M555.9 736.4 h4.0 M562.0 737.8 V754.3 M560.0 737.8 h4.0 M560.0 754.3 h4.0 M566.1 742.2 V759.4 M564.1 742.2 h4.0 M564.1 759.4 h4.0 M570.2 746.6 V763.4 M568.2 746.6 h4.0 M568.2 763.4 h4.0 M574.3 720.5 V738.6 M572.3 720.5 h4.0 M572.3 738.6 h4.0 M578.4 716.4 V734.5 M576.4 716.4 h4.0 M576.4 734.5 h4.0" stroke="#707070" stroke-width="1.7" fill="none"/>
<path d="M78.2 780.0 L82.3 701.0 L86.4 702.6 L90.5 755.7 L94.6 701.0 L98.7 667.8 L102.8 730.6 L106.9 727.4 L111.0 696.3 L115.1 704.6 L119.2 719.4 L123.3 715.8 L127.4 719.9 L131.5 707.0 L135.6 752.2 L139.7 735.9 L143.8 700.7 L147.9 730.7 L152.0 726.2 L156.1 738.6 L160.2 725.7 L164.3 727.2 L168.4 738.4 L172.5 733.2 L176.6 755.0 L180.7 750.8 L184.8 743.4 L188.9 743.4 L193.0 723.6 L197.1 742.2 L201.2 750.9 L205.3 747.7 L209.4 744.5 L213.5 752.7 L217.6 737.4 L221.7 735.0 L225.8 758.7 L229.9 761.8 L234.0 761.8 L238.1 753.9 L242.2 742.7 L246.3 748.5 L250.4 743.7 L254.5 733.2 L258.6 742.2 L262.7 757.6 L266.8 742.7 L270.9 747.1 L275.0 733.5 L279.1 732.7 L283.2 731.2 L287.3 728.7 L291.4 730.5 L295.5 713.4 L299.6 726.1 L303.7 711.8 L307.8 732.7 L311.9 738.3 L316.0 733.5 L320.1 727.0 L324.2 735.1 L328.3 735.1 L332.4 726.8 L336.5 752.1 L340.6 732.7 L344.7 721.7 L348.8 714.3 L352.9 735.1 L357.0 735.1 L361.1 731.9 L365.2 729.6 L369.3 725.5 L373.4 740.9 L377.5 735.1 L381.6 734.3 L385.7 730.5 L389.8 732.8 L393.9 724.4 L398.0 748.8 L402.1 741.4 L406.2 742.8 L410.3 739.8 L414.4 734.9 L418.5 743.4 L422.6 720.0 L426.7 723.3 L430.8 724.1 L434.9 731.2 L439.0 739.3 L443.1 731.7 L447.2 742.2 L451.3 752.7 L455.4 745.3 L459.5 747.7 L463.6 753.2 L467.7 753.5 L471.8 755.2 L475.9 754.8 L480.0 702.2 L484.1 737.1 L488.2 729.2 L492.3 743.7 L496.4 781.3 L500.5 725.8 L504.6 764.0 L508.7 742.2 L512.8 719.7 L516.9 731.2 L521.0 744.5 L525.1 754.2 L529.2 746.9 L533.3 748.5 L537.4 729.6 L541.5 719.0 L545.6 729.8 L549.7 725.6 L553.8 731.2 L557.9 727.0 L562.0 746.1 L566.1 750.8 L570.2 755.0 L574.3 729.6 L578.4 725.4 L582.5 745.3" stroke="#000" stroke-width="3.2" fill="none" stroke-linejoin="bevel"/>
</g>
<rect x="81.0" y="661.0" width="499.3" height="164.5" fill="none" stroke="#000" stroke-width="2.0"/>
<text transform="translate(74.5 710.6) scale(1 1.060)" font-size="23.4" text-anchor="end">3</text>
<text transform="translate(74.5 751.6) scale(1 1.060)" font-size="23.4" text-anchor="end">0</text>
<text transform="translate(74.5 792.6) scale(1 1.060)" font-size="23.4" text-anchor="end">-3</text>
<text transform="translate(117.5 801.2) scale(1 1.060)" font-size="23.4">(c)</text>
<text transform="translate(81.1 855.7) scale(1 1.060)" font-size="23.4" text-anchor="middle">50</text>
<text transform="translate(180.9 855.7) scale(1 1.060)" font-size="23.4" text-anchor="middle">100</text>
<text transform="translate(280.7 855.7) scale(1 1.060)" font-size="23.4" text-anchor="middle">150</text>
<text transform="translate(380.5 855.7) scale(1 1.060)" font-size="23.4" text-anchor="middle">200</text>
<text transform="translate(480.3 855.7) scale(1 1.060)" font-size="23.4" text-anchor="middle">250</text>
<text transform="translate(579.6 855.7) scale(1 1.060)" font-size="23.4" text-anchor="middle">300</text>
<text transform="translate(269.0 879.8) scale(1 1.060)" font-size="23.4">v<tspan font-size="14.5" dy="5.9">LSR</tspan><tspan dy="-5.9"> [km s</tspan><tspan font-size="13.5" dy="-9.5" dx="1">-1</tspan><tspan dy="9.5" dx="1.5">]</tspan></text>
<text transform="translate(23.4 517.0) rotate(-90) scale(1.005 1)" font-size="23.4">I<tspan font-size="14.5" dy="5.9">Hα</tspan><tspan dy="-5.9"> [mR/(km s</tspan><tspan font-size="13.5" dy="-9.5" dx="1">-1</tspan><tspan dy="9.5" dx="1.5">)]</tspan></text>
</svg></body></html>
